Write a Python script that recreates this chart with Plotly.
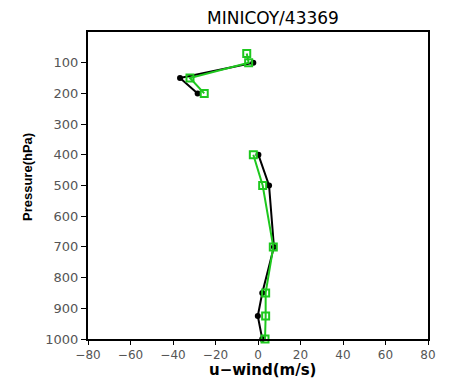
import plotly.graph_objects as go

# Data (None = no report between 200 and 400 hPa)
p_black = [100, 150, 200, 300, 400, 500, 700, 850, 925, 1000]
u_black = [-2.2, -36.7, -28.4, None, 0.2, 5.2, 7.5, 2.0, -0.1, 2.0]

p_green = [70, 100, 150, 200, 300, 400, 500, 700, 850, 925, 1000]
u_green = [-5.3, -4.4, -32.0, -25.3, None, -2.2, 2.2, 7.2, 3.6, 3.6, 3.3]

x_ticks = [-80, -60, -40, -20, 0, 20, 40, 60, 80]
y_ticks = [100, 200, 300, 400, 500, 600, 700, 800, 900, 1000]

W, H = 458, 379
OFF = 8  # page offset of the figure inside the browser window
L, T = 88 - OFF, 32 - OFF
R = W - (428 - OFF)
B = H - (339 - OFF)
pw, ph = W - L - R, H - T - B


def px_x(x):
    return (x - OFF - L) / pw


def px_y(y):
    return 1 - (y - OFF - T) / ph


fig = go.Figure()
fig.add_trace(go.Scatter(
    x=u_black, y=p_black, mode="lines+markers",
    line=dict(color="black", width=2),
    marker=dict(symbol="circle", size=6, color="black"),
    connectgaps=False, showlegend=False, cliponaxis=False))
fig.add_trace(go.Scatter(
    x=u_green, y=p_green, mode="lines+markers",
    line=dict(color="#1ec81e", width=2),
    marker=dict(symbol="square-open", size=7, color="#1ec81e", line=dict(width=2)),
    connectgaps=False, showlegend=False, cliponaxis=False))

fig.update_layout(
    width=W, height=H,
    margin=dict(l=L, r=R, t=T, b=B),
    paper_bgcolor="white", plot_bgcolor="white",
    xaxis=dict(range=[-80, 80], tickvals=x_ticks,
               ticktext=[("\u2212" + str(abs(v))) if v < 0 else str(v) for v in x_ticks],
               showgrid=False, zeroline=False, automargin=False,
               showline=True, linecolor="black", linewidth=2, mirror=True,
               ticks="outside", ticklen=4, tickwidth=1, tickcolor="black",
               tickfont=dict(family="DejaVu Sans", size=12, color="#555")),
    yaxis=dict(range=[1000, 0], tickvals=y_ticks,
               showgrid=False, zeroline=False, automargin=False,
               showline=True, linecolor="black", linewidth=2, mirror=True,
               ticks="outside", ticklen=5, tickwidth=1, tickcolor="black",
               tickfont=dict(family="DejaVu Sans", size=13, color="#555")),
    annotations=[
        dict(text="MINICOY/43369", xref="paper", yref="paper",
             x=px_x(273), y=px_y(18),
             xanchor="center", yanchor="middle", showarrow=False,
             font=dict(family="DejaVu Sans", size=17, color="black")),
        dict(text="u\u2212wind(m/s)", xref="paper", yref="paper",
             x=px_x(262), y=px_y(369.5),
             xanchor="center", yanchor="middle", showarrow=False,
             font=dict(family="DejaVu Sans", size=15, color="black", weight=600)),
        dict(text="<b>Pressure(hPa)</b>", xref="paper", yref="paper",
             x=px_x(27), y=px_y(177), textangle=-90,
             xanchor="center", yanchor="middle", showarrow=False,
             font=dict(family="Liberation Sans Narrow, Liberation Sans", size=13, color="black")),
    ],
)

fig.write_html("out.html")
